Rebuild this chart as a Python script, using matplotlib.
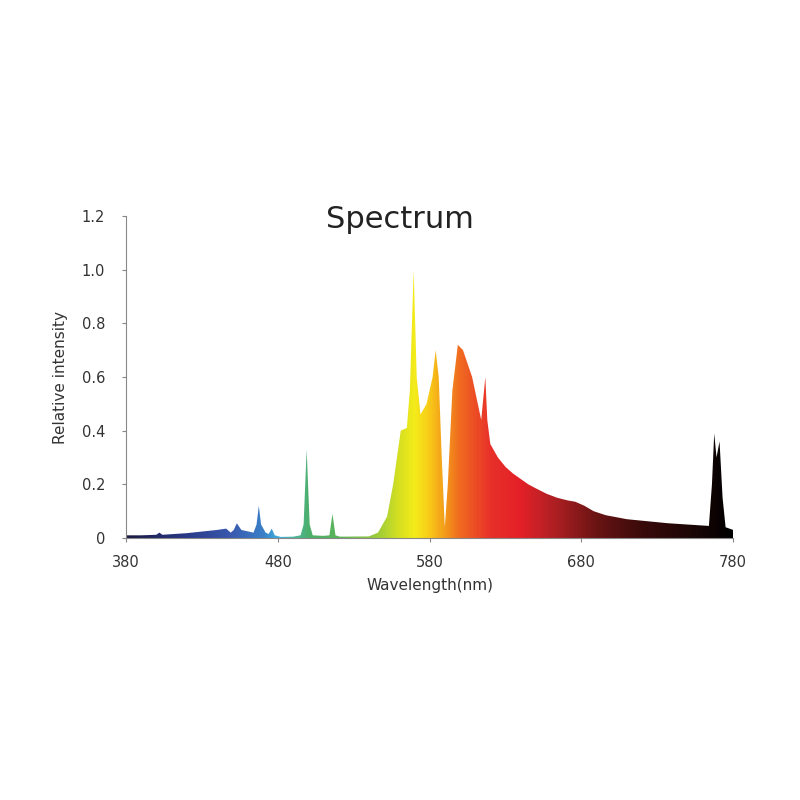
import numpy as np
import matplotlib.pyplot as plt
from matplotlib.colors import LinearSegmentedColormap
from matplotlib.path import Path
from matplotlib.patches import PathPatch

# Spectrum key points
wavelength = [380, 390, 400, 402, 404, 420, 440, 446, 449, 451, 453, 456, 460, 464, 466,
              467.5, 469, 472, 474, 476, 478, 482, 490, 495, 497, 499, 501, 503, 510, 514,
              516, 518, 521, 540, 546, 552, 556, 561, 565, 567, 569.5, 571.5, 574, 578,
              582, 584, 586, 588, 590, 592, 595, 598.6, 602, 608, 614, 616.7, 618, 620,
              625, 630, 635, 640, 645, 650, 657, 664, 671, 676, 682, 688, 696, 710, 737,
              764, 766, 767.5, 769, 771, 773, 775, 780]
intensity = [0.01, 0.01, 0.012, 0.02, 0.012, 0.018, 0.03, 0.035, 0.02, 0.03, 0.055, 0.03,
             0.025, 0.02, 0.05, 0.12, 0.05, 0.02, 0.015, 0.035, 0.01, 0.004, 0.005, 0.01,
             0.05, 0.33, 0.05, 0.01, 0.008, 0.01, 0.09, 0.01, 0.005, 0.006, 0.02, 0.08,
             0.2, 0.40, 0.41, 0.55, 1.0, 0.6, 0.46, 0.5, 0.6, 0.70, 0.6, 0.3, 0.04, 0.2,
             0.55, 0.72, 0.70, 0.6, 0.44, 0.60, 0.44, 0.35, 0.30, 0.265, 0.24, 0.22, 0.2,
             0.185, 0.165, 0.15, 0.14, 0.135, 0.12, 0.1, 0.085, 0.07, 0.055, 0.045, 0.2,
             0.39, 0.3, 0.36, 0.15, 0.04, 0.03]

color_wl = [380, 420, 450, 470, 480, 490, 500, 520, 545, 560, 570, 580, 590, 600, 620,
            640, 660, 690, 720, 760, 780]
color_hex = ['#1a1a40', '#2a3a8a', '#3a5cb0', '#3a80c8', '#40b0e0', '#50b8a0', '#4caf6a',
             '#5db55a', '#9ccc3a', '#d7e020', '#f5ec1a', '#f8c818', '#f39a1a', '#f06a20',
             '#e8302a', '#e32027', '#b42024', '#6a1414', '#3a0a0a', '#150505', '#000000']

fig = plt.figure(figsize=(8, 8), dpi=100)
ax = fig.add_axes([0.1575, 0.3275, 0.759, 0.4025])

x = np.array(wavelength)
y = np.array(intensity)
verts = [(x[0], 0)] + list(zip(x, y)) + [(x[-1], 0)]
patch = PathPatch(Path(verts), facecolor='none', edgecolor='none')
ax.add_patch(patch)

pos = [(w - 380) / 400 for w in color_wl]
cmap = LinearSegmentedColormap.from_list('spec', list(zip(pos, color_hex)))
grad = np.linspace(0, 1, 800).reshape(1, -1)
im = ax.imshow(grad, cmap=cmap, aspect='auto', extent=[380, 780, 0, 1.05],
               origin='lower', interpolation='bilinear')
im.set_clip_path(patch)

ax.set_xlim(380, 780)
ax.set_ylim(0, 1.2)
ax.set_xticks([380, 480, 580, 680, 780])
ax.set_yticks([0, 0.2, 0.4, 0.6, 0.8, 1.0, 1.2])
ax.set_yticklabels(['0', '0.2', '0.4', '0.6', '0.8', '1.0', '1.2'])
for s in ['top', 'right']:
    ax.spines[s].set_visible(False)
for s in ['left', 'bottom']:
    ax.spines[s].set_color('#888888')
ax.tick_params(colors='#888888', labelcolor='#333333', labelsize=10.5, length=3)
ax.tick_params(axis='x', pad=9)
ax.tick_params(axis='y', pad=12)
ax.set_xlabel('Wavelength(nm)', fontsize=11, color='#333333', labelpad=6)
ax.set_ylabel('Relative intensity', fontsize=11, color='#333333', labelpad=10)
fig.text(0.5, 0.725, 'Spectrum', fontsize=22, color='#222222', ha='center', va='center')

fig.savefig('out.png')
